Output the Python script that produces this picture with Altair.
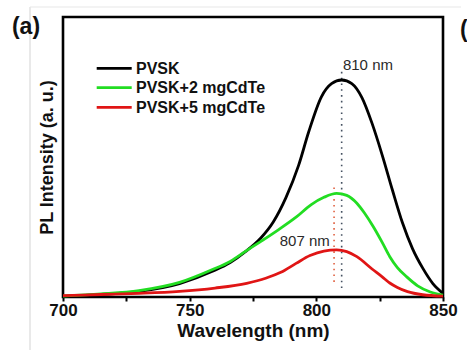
import altair as alt
import pandas as pd

# ---- data ----
series_names = ["PVSK", "PVSK+2 mgCdTe", "PVSK+5 mgCdTe"]
series_colors = ["#000000", "#22dd22", "#e01515"]

wl_black = [700, 715, 730, 746, 759, 766, 772, 778, 783, 788, 793, 797, 802, 806, 810,
            814, 818, 822, 826, 830, 834, 838, 842, 846, 850]
pl_black = [0.002, 0.009, 0.020, 0.048, 0.092, 0.123, 0.162, 0.210, 0.268, 0.355, 0.470,
            0.590, 0.715, 0.762, 0.775, 0.762, 0.712, 0.620, 0.507, 0.383, 0.265, 0.172,
            0.103, 0.048, 0.013]

wl_green = [700, 715, 730, 746, 759, 766, 772, 778, 785, 792, 798, 803, 808,
            812, 816, 819, 822.5, 826, 829, 832, 835.7, 840, 845, 850]
pl_green = [0.003, 0.011, 0.023, 0.052, 0.098, 0.127, 0.163, 0.198, 0.240, 0.285, 0.330,
            0.356, 0.370, 0.363, 0.335, 0.300, 0.251, 0.195, 0.144, 0.105, 0.072, 0.040,
            0.018, 0.007]

wl_red = [700, 715, 730, 746, 760, 772.5, 780, 786, 792, 797.5, 803, 808, 812, 816,
          822, 826, 829, 832, 836, 842, 850]
pl_red = [0.005, 0.009, 0.013, 0.020, 0.032, 0.049, 0.067, 0.088, 0.120, 0.148, 0.164,
          0.168, 0.162, 0.144, 0.100, 0.072, 0.050, 0.034, 0.019, 0.008, 0.003]

peak_wl = [810, 807]
peak_low = [0.032, 0.054]
peak_high = [0.814, 0.40]
peak_colors = ["#445060", "#e06040"]
peak_labels = ["810 nm", "807 nm"]
label_x = [810.5, 805.3]
label_y = [0.829, 0.201]
label_align = ["left", "right"]

x_ticks = [700, 725, 750, 775, 800, 825, 850]

# ---- tables ----
rows = []
for name, wls, vals in zip(series_names, [wl_black, wl_green, wl_red], [pl_black, pl_green, pl_red]):
    for w, v in zip(wls, vals):
        rows.append({"series": name, "wl": w, "pl": v})
df = pd.DataFrame(rows)

W, H = 380, 280
xscale = alt.Scale(domain=[700, 850], nice=False, zero=False)
yscale = alt.Scale(domain=[0, 1.0], nice=False, zero=False)
FONT = "Liberation Sans"

x_axis = alt.Axis(values=x_ticks, labelExpr="datum.value % 50 == 0 ? datum.label : ''",
                  labelFont=FONT, labelFontSize=17, labelFontWeight="bold", labelColor="#111",
                  labelFlush=False, labelOverlap=False,
                  tickColor="#000", tickWidth=2, tickSize=4, labelPadding=1, domain=False,
                  grid=False, title="Wavelength (nm)", titleFont=FONT, titleFontSize=19,
                  titleFontWeight="bold", titleColor="#111", titlePadding=3)
y_axis = alt.Axis(labels=False, ticks=False, domain=False, grid=False,
                  title="PL Intensity (a. u.)", titleFont=FONT, titleFontSize=18,
                  titleFontWeight="bold", titleColor="#111", titlePadding=7, minExtent=0)

lines = alt.Chart(df).mark_line(interpolate="monotone", strokeWidth=2.8).encode(
    x=alt.X("wl:Q", scale=xscale, axis=x_axis),
    y=alt.Y("pl:Q", scale=yscale, axis=y_axis),
    color=alt.Color("series:N", scale=alt.Scale(domain=series_names, range=series_colors), legend=None),
    detail="series:N",
    order=alt.Order("wl:Q"),
)

layers = []
# dotted peak markers
for w, lo, hi, c in zip(peak_wl, peak_low, peak_high, peak_colors):
    d = pd.DataFrame({"wl": [w], "lo": [lo], "hi": [hi]})
    layers.append(alt.Chart(d).mark_rule(color=c, strokeWidth=1.6, strokeDash=[1.6, 4.2]).encode(
        x=alt.X("wl:Q", scale=xscale), y=alt.Y("lo:Q", scale=yscale), y2="hi:Q"))

layers.append(lines)

for t, lx, ly, al in zip(peak_labels, label_x, label_y, label_align):
    d = pd.DataFrame({"wl": [lx], "pl": [ly], "t": [t]})
    layers.append(alt.Chart(d).mark_text(font=FONT, fontSize=15, color="#2a2a2a", align=al,
                                         baseline="middle").encode(
        x=alt.X("wl:Q", scale=xscale), y=alt.Y("pl:Q", scale=yscale), text="t:N"))

# legend (manual)
leg_y = [51.3, 70.7, 90.3]
for name, col, yy in zip(series_names, series_colors, leg_y):
    d = pd.DataFrame({"t": [name]})
    layers.append(alt.Chart(d).mark_rule(color=col, strokeWidth=2.8).encode(
        x=alt.value(33.7), x2=alt.value(68.7), y=alt.value(yy)))
    layers.append(alt.Chart(d).mark_text(font=FONT, fontSize=16, fontWeight="bold", color="#111",
                                         align="left", baseline="middle").encode(
        x=alt.value(73), y=alt.value(yy + 0.5), text="t:N"))

# panel letters and faint page borders
pd1 = pd.DataFrame({"t": ["(a)"]})
layers.append(alt.Chart(pd1).mark_rule(color="#e2e2e2", strokeWidth=1.5).encode(
    x=alt.value(-33), y=alt.value(-10), y2=alt.value(333)))
layers.append(alt.Chart(pd1).mark_rule(color="#e8e8e8", strokeWidth=1.2).encode(
    x=alt.value(-33), x2=alt.value(398), y=alt.value(-10)))
layers.append(alt.Chart(pd1).mark_text(font=FONT, fontSize=23, fontWeight="bold", color="#111",
                                       align="center", baseline="middle").encode(
    x=alt.value(-37), y=alt.value(10), text="t:N"))
pd2 = pd.DataFrame({"t": ["("]})
layers.append(alt.Chart(pd2).mark_text(font=FONT, fontSize=23, fontWeight="bold", color="#111",
                                       align="left", baseline="middle").encode(
    x=alt.value(397), y=alt.value(13), text="t:N"))

chart = alt.layer(*layers).properties(
    width=W, height=H,
    padding={"left": 63, "top": 17, "right": 24, "bottom": 53},
    autosize=alt.AutoSizeParams(type="none"),
    background="white",
).configure_view(stroke="#000", strokeWidth=2.6)

chart.save("out.html", embed_options={"renderer": "svg", "actions": False})
